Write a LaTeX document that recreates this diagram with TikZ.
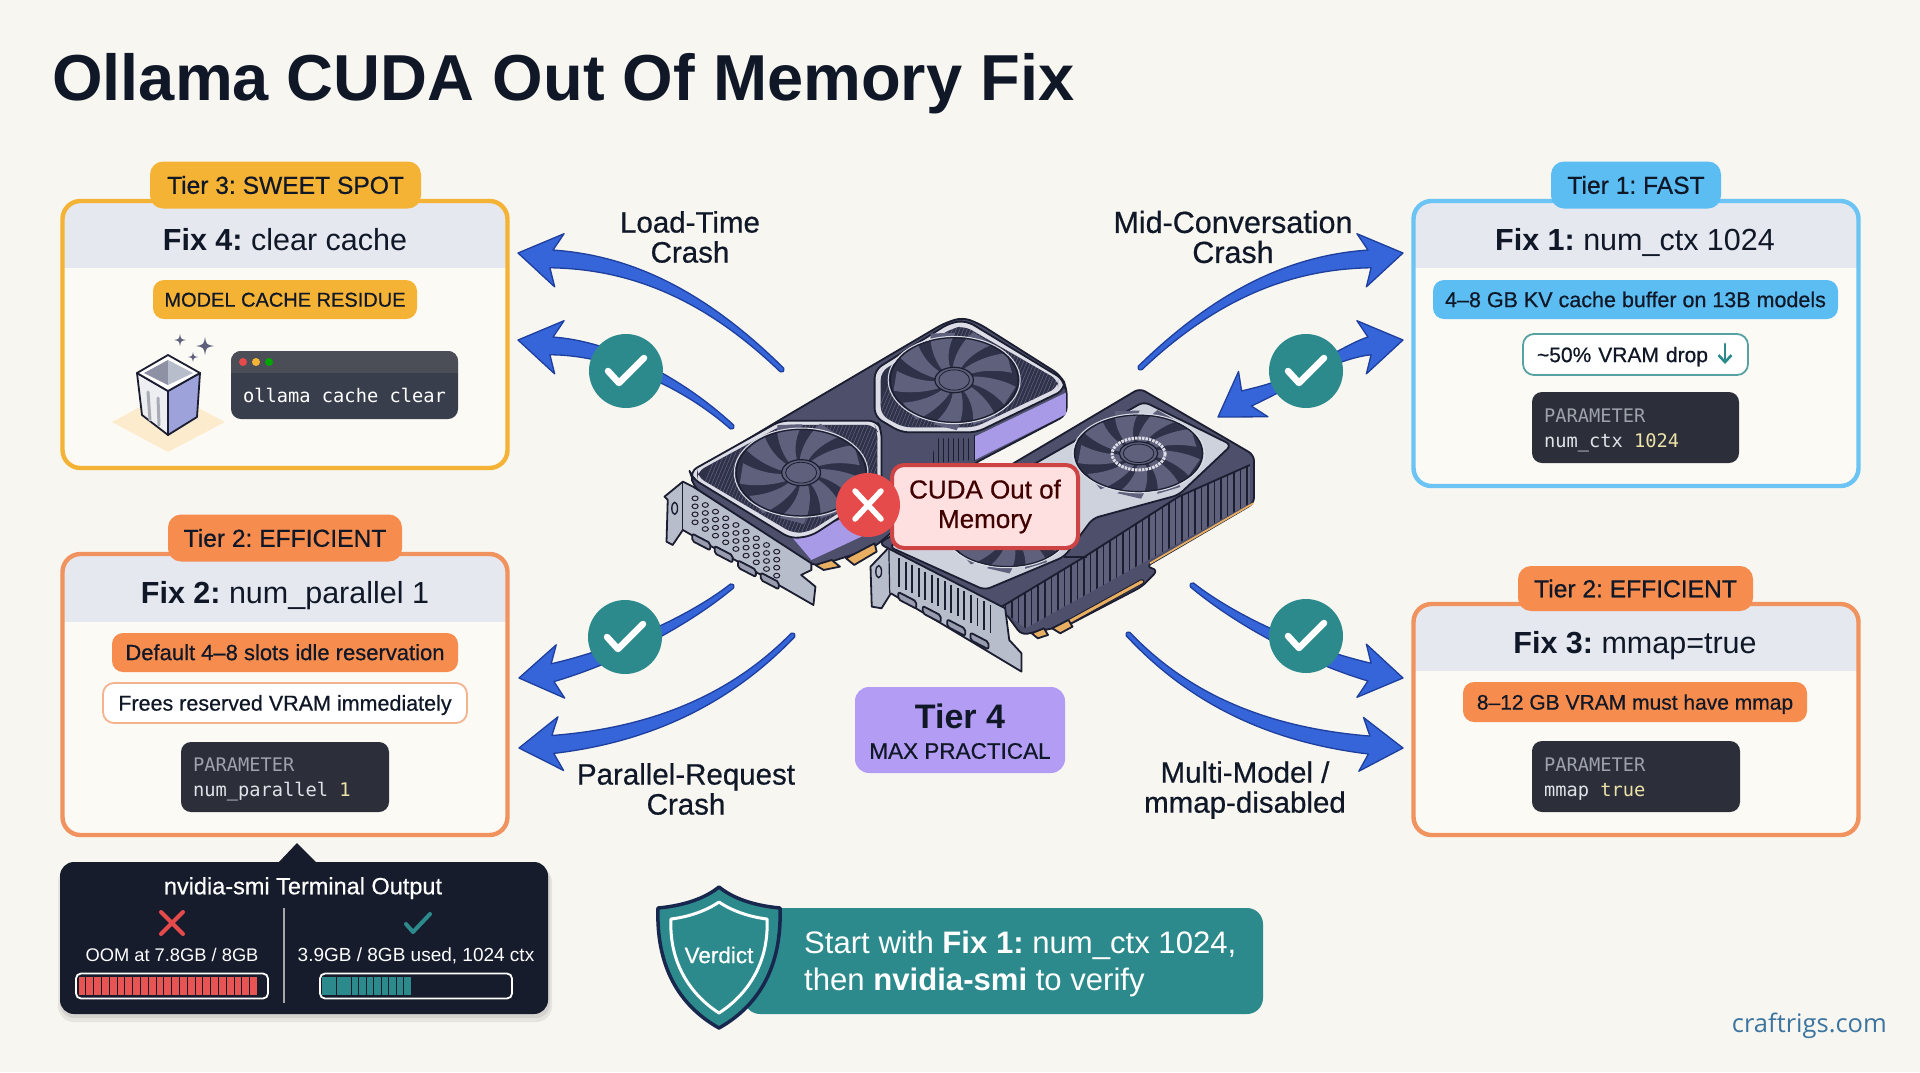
\documentclass[tikz,border=0pt]{standalone}
\usepackage{fontspec}
\usepackage{tikz}
\usetikzlibrary{calc,arrows.meta,positioning}
\setmainfont{Liberation Sans}
\setmonofont{DejaVu Sans Mono}
\newfontfamily\medfont[FakeBold=0.6]{Liberation Sans}
\newfontfamily\sitefont{Open Sans}

\definecolor{paper}{HTML}{F7F6F1}
\definecolor{ink}{HTML}{101828}
\definecolor{cardfill}{HTML}{FCFAF5}
\definecolor{headfill}{HTML}{E6E8EF}
\definecolor{amber}{HTML}{F5B335}
\definecolor{sky}{HTML}{5BBDF2}
\definecolor{tangerine}{HTML}{F68C4E}
\definecolor{peach}{HTML}{F0935F}
\definecolor{teal}{HTML}{2D8A8C}
\definecolor{night}{HTML}{161C2C}
\definecolor{slatebox}{HTML}{2C2F3A}
\definecolor{paramhead}{HTML}{9DA2AB}
\definecolor{paramtext}{HTML}{DFE3E8}
\definecolor{paramval}{HTML}{EDE3A8}
\definecolor{flowblue}{HTML}{3565D8}
\definecolor{flowedge}{HTML}{1E3F9C}
\definecolor{crossred}{HTML}{E54B4B}
\definecolor{lilac}{HTML}{B39CF4}
\definecolor{gpuline}{HTML}{1B1D30}
\definecolor{gpubody}{HTML}{4D4F6B}
\definecolor{gpudark}{HTML}{2F3148}
\definecolor{gpublade}{HTML}{5E607C}
\definecolor{gpurim}{HTML}{DCDDE6}
\definecolor{gpusilver}{HTML}{CDD2DC}
\definecolor{gpuplate}{HTML}{B8BDCB}
\definecolor{gpupurple}{HTML}{A99AE8}
\definecolor{gpugold}{HTML}{E8AE62}

\tikzset{tagbox/.style={rectangle,rounded corners=13pt,outer sep=0pt,inner sep=0pt,text=ink,text height=17.6pt,text depth=0pt,font=\medfont\fontsize{24.6}{28}\selectfont},
chipbox/.style={rectangle,rounded corners=11pt,outer sep=0pt,inner sep=0pt,text=ink,text height=15.2pt,text depth=0pt,font=\medfont\fontsize{21.5}{25}\selectfont},
hollowbox/.style={rectangle,rounded corners=11pt,outer sep=0pt,inner sep=0pt,fill=white,line width=1.8pt,text=ink,text height=15.2pt,text depth=0pt,font=\medfont\fontsize{21.5}{25}\selectfont},
parambox/.style={rectangle,rounded corners=10pt,outer sep=0pt,inner sep=0pt,fill=slatebox,align=left,text=paramtext,font=\ttfamily\fontsize{18.7}{25}\selectfont},
fixtext/.style={text=ink,inner sep=0pt,text height=21.8pt,text depth=0pt,font=\fontsize{30.5}{34}\selectfont},
crashlabel/.style={text=ink,align=center,inner sep=0pt,font=\medfont\fontsize{29.5}{30}\selectfont},
termtext/.style={text=white,inner sep=0pt,text height=13.6pt,text depth=0pt,font=\fontsize{19}{22}\selectfont},
flowline/.style={fill=flowblue,draw=flowedge,line width=1.3pt,line join=round},
checkdisc/.style={circle,fill=teal,minimum size=74pt,inner sep=0pt},
checkstroke/.style={white,line width=6.5pt,line cap=round,line join=round},
gpuedge/.style={draw=gpuline,line width=1.8pt,line join=round}}

% tail, tip, angle at the tip, two control points, half width at the tail
\newcommand{\flowarrow}[6]{
\draw[flowline] ($(#2)+(#3:-34)+(#3+90:9)$) -- ($(#2)+(#3:-42)+(#3+90:27)$) -- (#2) -- ($(#2)+(#3:-42)+(#3+90:-27)$) -- ($(#2)+(#3:-34)+(#3+90:-9)$)
.. controls ($(#5)+(#3+90:-7)$) and ($(#4)+(#3+90:-4)$) .. ($(#1)!#6pt!90:(#4)$)
.. controls ($(#1)!#6pt!180:(#4)$) .. ($(#1)!#6pt!-90:(#4)$)
.. controls ($(#4)+(#3+90:4)$) and ($(#5)+(#3+90:7)$) .. cycle;}

% name, left, top, right, bottom, header bottom, colour
\newcommand{\tiercard}[7]{
\pgfmathsetmacro{\cardw}{#4-#2}\pgfmathsetmacro{\cardh}{#5-#3}
\node[rectangle,rounded corners=18pt,outer sep=0pt,inner sep=0pt,fill=cardfill,minimum width=\cardw pt,minimum height=\cardh pt] (#1) at ({(#2+#4)/2},{(#3+#5)/2}) {};
\begin{scope}
\clip[rounded corners=18pt] (#2,#3) rectangle (#4,#5);
\fill[headfill] (#2,#3) rectangle (#4,#6);
\end{scope}
\draw[#7,line width=4.4pt,rounded corners=18pt] (#2,#3) rectangle (#4,#5);}

% x, y, x radius, y radius
\newcommand{\gpufan}[4]{
\begin{scope}[shift={(#1,#2)},xscale=#3,yscale=#4]
\fill[gpudark] (0,0) circle (1);
\foreach \a in {0,40,...,320} \fill[gpublade,rotate=\a] (0.24,-0.08) .. controls (0.5,-0.1) and (0.8,0.02) .. (0.96,0.16) -- (0.78,0.58) .. controls (0.65,0.35) and (0.45,0.15) .. (0.24,0.08) -- cycle;
\draw[gpuline,line width=1.4pt] (0,0) circle (1);
\draw[gpurim,line width=1pt] (0,0) circle (1.03);
\fill[gpublade] (0,0) circle (0.3);
\draw[gpuline,line width=1.2pt] (0,0) circle (0.3);
\draw[gpuline,line width=.8pt] (0,0) circle (0.24);
\end{scope}}

% x, y of a display port on a bracket
\newcommand{\gpuport}[2]{
\draw[gpuedge,fill=gpuplate!70!gpubody,rounded corners=2pt] (#1-22,#2-14) -- (#1+22,#2+14) -- (#1+22,#2+36) -- (#1-22,#2+8) -- cycle;}

% x, y, size
\newcommand{\sparkle}[3]{
\fill[gpublade] (#1,#2-#3) .. controls (#1+.15*#3,#2-.15*#3) .. (#1+#3,#2) .. controls (#1+.15*#3,#2+.15*#3) .. (#1,#2+#3) .. controls (#1-.15*#3,#2+.15*#3) .. (#1-#3,#2) .. controls (#1-.15*#3,#2-.15*#3) .. cycle;}

\begin{document}
\frenchspacing
\begin{tikzpicture}[x=1pt,y=-1pt]

\useasboundingbox (0,0) rectangle (1920,1072);
\fill[paper] (0,0) rectangle (1920,1072);

% Title
\node[anchor=base west,inner sep=0pt,text=ink,font=\bfseries\fontsize{65}{70}\selectfont] (title) at (52,100) {Ollama CUDA Out Of Memory Fix};

% Cards
\tiercard{cardSweet}{62.5}{201}{507.5}{468}{268}{amber}
\tiercard{cardEfficient}{62.5}{554}{507.5}{835}{622}{peach}
\tiercard{cardFast}{1413.5}{201}{1858.5}{486}{268}{sky!90!white}
\tiercard{cardMmap}{1413.5}{604}{1858.5}{835}{671}{peach}

\node[tagbox,fill=amber,minimum width=271pt,minimum height=47pt] (tagSweet) at (285.5,185) {Tier 3: SWEET SPOT};
\node[tagbox,fill=tangerine,minimum width=234pt,minimum height=47pt] (tagEfficient) at (285,538) {Tier 2: EFFICIENT};
\node[tagbox,fill=sky,minimum width=170pt,minimum height=47pt] (tagFast) at (1636,185) {Tier 1: FAST};
\node[tagbox,fill=tangerine,minimum width=235pt,minimum height=45pt] (tagMmap) at (1635.5,588.5) {Tier 2: EFFICIENT};

\node[fixtext] (fixFour) at (285,239.5) {\textbf{Fix 4:} clear cache};
\node[fixtext] (fixTwo) at (285,592.5) {\textbf{Fix 2:} num\_parallel 1};
\node[fixtext] (fixOne) at (1635,239.5) {\textbf{Fix 1:} num\_ctx 1024};
\node[fixtext] (fixThree) at (1635,643) {\textbf{Fix 3:} mmap=true};

\node[chipbox,fill=amber,minimum width=264pt,minimum height=39pt,text height=14.3pt,font=\medfont\fontsize{20}{24}\selectfont] (chipResidue) at (285,299.5) {MODEL CACHE RESIDUE};
\node[chipbox,fill=tangerine,minimum width=346pt,minimum height=39pt,font=\medfont\fontsize{22}{25}\selectfont] (chipSlots) at (285,652.5) {Default 4–8 slots idle reservation};
\node[chipbox,fill=sky,minimum width=405pt,minimum height=39pt] (chipBuffer) at (1635.5,299.5) {4–8 GB KV cache buffer on 13B models};
\node[chipbox,fill=tangerine,minimum width=344pt,minimum height=40pt,font=\medfont\fontsize{21}{25}\selectfont] (chipMust) at (1635,702) {8–12 GB VRAM must have mmap};

\node[hollowbox,draw=peach!70,minimum width=364pt,minimum height=40pt] (noteFrees) at (285,703) {Frees reserved VRAM immediately};
\node[hollowbox,draw=teal!80,minimum width=225pt,minimum height=41pt,align=left,text width=197pt,font=\medfont\fontsize{21}{25}\selectfont] (noteDrop) at (1635.5,354.5) {\textasciitilde50\% VRAM drop};
\coordinate (dropTop) at (1725,344);
\coordinate (dropEnd) at (1725,364);
\draw[teal,line width=2.6pt,line cap=round,-{Straight Barb[length=7pt,width=13pt]}] (dropTop) -- (dropEnd);

\node[parambox,text width=183pt,minimum width=207pt,minimum height=71pt] (paramFast) at (1635.5,427.5) {\rule{0pt}{19pt}{\color{paramhead}PARAMETER}\\num\_ctx\hspace{11.3pt}{\color{paramval}1024}};
\node[parambox,text width=184pt,minimum width=208pt,minimum height=70pt] (paramEfficient) at (285,777) {\rule{0pt}{19pt}{\color{paramhead}PARAMETER}\\num\_parallel\hspace{11.3pt}{\color{paramval}1}};
\node[parambox,text width=184pt,minimum width=208pt,minimum height=71pt] (paramMmap) at (1636,776.5) {\rule{0pt}{19pt}{\color{paramhead}PARAMETER}\\mmap\hspace{11.3pt}{\color{paramval}true}};

% Cache terminal and bin
\node[rectangle,rounded corners=10pt,fill=night!85!white,outer sep=0pt,minimum width=227pt,minimum height=68pt] (cacheTerm) at (344.5,385) {};
\begin{scope}
\clip[rounded corners=10pt] (231,351) rectangle (458,419);
\fill[slatebox!85!white] (231,351) rectangle (458,373);
\end{scope}
\foreach \x/\c in {243/crossred,256/amber,269/green!65!black} \fill[\c] (\x,362) circle (4);
\node[inner sep=0pt,text=white,font=\ttfamily\fontsize{18.7}{22}\selectfont] (cacheCmd) at (344.5,395) {ollama cache clear};

\fill[amber!25] (112,422) -- (168,392) -- (225,422) -- (168,452) -- cycle;
\draw[gpuedge,fill=gpurim!50!white] (137,373) -- (168,391) -- (168,435) -- (142,415) -- cycle;
\draw[gpuedge,fill=gpuplate!80!blue!90!white] (168,391) -- (200,373) -- (197,417) -- (168,435) -- cycle;
\draw[gpuedge,fill=white] (137,373) -- (168,355) -- (200,373) -- (168,391) -- cycle;
\fill[gpublade!70] (144,373) -- (168,360) -- (168,385) -- cycle;
\fill[gpuplate] (168,360) -- (193,373) -- (168,385) -- cycle;
\draw[gpuplate!70!gray,line width=3pt,line cap=round] (148,392) -- (150,420) (158,398) -- (159,425);
\sparkle{180}{340}{6}
\sparkle{205}{346}{9}
\sparkle{193}{357}{5}

% Left card GPU
\begin{scope}[shift={(640,300)},x=0.408pt,y=-0.3333pt]
\draw[gpuedge,fill=gpubody,rounded corners=8pt] (125,520) -- (345,358) -- (745,70) -- (790,52) -- (830,70) -- (1030,225) -- (1046,262) -- (1046,345) -- (820,490) -- (570,745) -- (430,800) -- (130,560) -- cycle;
\fill[gpupurple] (820,410) -- (1044,278) -- (1044,343) -- (820,480) -- cycle;
\fill[gpupurple] (375,715) -- (530,640) -- (560,700) -- (420,780) -- cycle;
\draw[gpuline,line width=1.4pt] (820,405) -- (820,482);

% right shroud
\draw[gpuedge,fill=gpurim,rounded corners=8pt] (575,210) -- (760,68) -- (800,62) -- (1040,240) -- (1040,270) -- (825,397) -- (640,397) -- (575,350) -- cycle;
\begin{scope}
\clip[rounded corners=8pt] (590,215) -- (765,85) -- (795,78) -- (1025,240) -- (1025,262) -- (820,382) -- (645,382) -- (590,345) -- cycle;
\fill[gpudark] (570,60) rectangle (1040,400);
\foreach \k in {0,...,80} \draw[gpublade,line width=.6pt] (560+\k*9,400) -- ++(120,-350);
\end{scope}
\gpufan{770}{240}{157}{127}

% left shroud
\draw[gpuedge,fill=gpurim,rounded corners=8pt] (122,515) -- (345,362) -- (580,362) -- (592,390) -- (592,570) -- (420,708) -- (370,716) -- (128,535) -- cycle;
\begin{scope}
\clip[rounded corners=8pt] (140,515) -- (350,375) -- (575,375) -- (582,395) -- (582,565) -- (415,695) -- (375,700) -- (140,530) -- cycle;
\fill[gpudark] (130,360) rectangle (600,720);
\foreach \k in {0,...,80} \draw[gpublade,line width=.6pt] (100+\k*9,720) -- ++(120,-350);
\end{scope}
\gpufan{395}{518}{159}{130}

% vent under the shrouds
\begin{scope}
\clip (730,415) -- (815,415) -- (815,480) -- (710,490) -- cycle;
\foreach \k in {0,...,8} \draw[gpuline,line width=.9pt] (720+\k*12,410) -- ++(0,90);
\end{scope}

% gold contacts
\draw[gpuedge,fill=gpugold] (430,795) -- (470,780) -- (490,800) -- (450,810) -- cycle;
\draw[gpuedge,fill=gpugold] (505,775) -- (575,730) -- (580,755) -- (525,795) -- cycle;

% bracket
\draw[gpuedge,fill=gpuplate] (60,590) -- (105,545) -- (130,560) -- (420,790) -- (420,810) -- (395,825) -- (430,860) -- (425,915) -- (105,690) -- (80,735) -- (65,725) -- (68,600) -- cycle;
\draw[gpuline,line width=1.2pt] (105,548) -- (105,690);
\draw[gpuline,line width=1.4pt] (85,625) ellipse (7 and 18);
\foreach \r in {0,1,2,3} \foreach \c in {0,...,8} \draw[gpuline,line width=1pt,fill=gpublade!40] ({135+\c*25+\r*0},{595+\c*20+\r*24}) ellipse (7.5 and 7);
\foreach \x/\y in {150/715,205/752,262/795,318/832} {\gpuport{\x}{\y}}
\end{scope}

% Right card GPU
\begin{scope}[shift={(640,300)},x=0.408pt,y=-0.3333pt]
\draw[gpuedge,fill=gpubody,rounded corners=6pt] (585,730) -- (1225,265) -- (1505,465) -- (1505,610) -- (1240,800) -- (1270,810) -- (1230,860) -- (1050,975) -- (935,1005) -- (890,930) -- cycle;
\draw[gpuedge,fill=gpusilver,rounded corners=6pt] (610,740) -- (1235,305) -- (1450,435) -- (1320,585) -- (1110,655) -- (1040,770) -- (845,870) -- cycle;
\gpufan{1222}{460}{157}{115}
\draw[gpurim,line width=3pt,dash pattern=on 2.5pt off 1pt] (1222,462) ellipse (65 and 48);
\gpufan{900}{690}{150}{110}

% side vents
\begin{scope}
\clip (880,925) -- (1090,770) -- (1320,590) -- (1495,495) -- (1495,610) -- (945,985) -- cycle;
\fill[gpublade] (870,480) rectangle (1500,1000);
\foreach \x in {880,896,...,1500} \draw[gpuline,line width=1.5pt] (\x,480) -- (\x,1000);
\end{scope}
\draw[gpuedge] (880,925) -- (1090,770) -- (1320,590) -- (1495,495);
\draw[gpuedge] (1040,770) -- (1095,770);

% gold edge
\draw[gpuline,line width=5pt,line cap=round] (1052,965) -- (1230,845);
\draw[gpugold,line width=3pt,line cap=round] (1052,965) -- (1230,845);
\draw[gpugold,line width=1.8pt] (1250,790) -- (1503,610);
\draw[gpuedge,fill=gpugold] (960,1000) -- (990,985) -- (1000,1005) -- (975,1015) -- cycle;
\draw[gpuedge,fill=gpugold] (1010,985) -- (1050,960) -- (1060,980) -- (1030,1000) -- cycle;

% bracket
\draw[gpuedge,fill=gpuplate] (565,800) -- (608,745) -- (895,925) -- (905,1020) -- (935,1060) -- (935,1115) -- (615,880) -- (592,925) -- (568,920) -- cycle;
\draw[gpuline,line width=1.4pt] (585,815) ellipse (7 and 18);
\draw[gpuline,line width=1.2pt] (610,750) -- (612,880);
\foreach \x in {635,651,...,870} \draw[gpuline,line width=1.8pt] (\x,{775+(\x-635)*.62}) -- ++(0,85);
\foreach \x/\y in {655/890,715/932,775/972,832/1012} {\gpuport{\x}{\y}}
\end{scope}

% Arrows
\coordinate (tailLoad) at (782,370); \coordinate (tipLoad) at (518,253);
\coordinate (tailIdle) at (732,427); \coordinate (tipIdle) at (518,340);
\coordinate (tailSlot) at (732,586); \coordinate (tipSlot) at (519,678);
\coordinate (tailPara) at (793,635); \coordinate (tipPara) at (519,748);
\coordinate (tailMid) at (1140,368); \coordinate (tipMid) at (1403,253);
\coordinate (tipFast) at (1403,340); \coordinate (tipBack) at (1218,417);
\coordinate (tailMmap) at (1192,585); \coordinate (tipMmap) at (1403,678);
\coordinate (tailMulti) at (1128,634); \coordinate (tipMulti) at (1403,748);

\coordinate (checkTL) at (626,371);
\coordinate (checkTR) at (1306,371);
\coordinate (checkBL) at (625,637);
\coordinate (checkBR) at (1306,636);

\flowarrow{tailLoad}{tipLoad}{190}{700,290}{625,262}{2.5}
\flowarrow{tailIdle}{tipIdle}{190}{680,380}{610,348}{2.5}
\flowarrow{tailSlot}{tipSlot}{171}{690,620}{620,655}{2.5}
\flowarrow{tailPara}{tipPara}{174}{730,700}{650,735}{2.5}
\flowarrow{tailMid}{tipMid}{-10}{1221,290}{1296,262}{2.5}
\flowarrow{checkTR}{tipFast}{-10}{1330,362}{1350,350}{5}
\flowarrow{checkTR}{tipBack}{147}{1285,385}{1265,392}{5}
\flowarrow{tailMmap}{tipMmap}{10}{1235,620}{1305,655}{2.5}
\flowarrow{tailMulti}{tipMulti}{5}{1190,700}{1270,735}{2.5}

% Check badges
\foreach \n in {checkTL,checkTR,checkBL,checkBR} {
\node[checkdisc] (disc\n) at (\n) {};
\draw[checkstroke] ($(\n)+(-18,0)$) -- ($(\n)+(-7,12)$) -- ($(\n)+(18,-13)$);
}

% Crash labels
\node[crashlabel] (labelLoad) at (690,237) {Load-Time\\Crash};
\node[crashlabel,font=\medfont\fontsize{30.5}{30}\selectfont] (labelMid) at (1233,237) {Mid-Conversation\\Crash};
\node[crashlabel] (labelPara) at (686,789) {Parallel-Request\\Crash};
\node[crashlabel] (labelMulti) at (1245,790) {Multi-Model /\\mmap-disabled};

% CUDA badge
\node[rectangle,rounded corners=12pt,fill=red!12!white,draw=crossred!90!black,line width=4pt,outer sep=0pt,align=center,minimum width=186pt,minimum height=83pt,text=red!25!black,font=\medfont\fontsize{26}{29.5}\selectfont] (cudaBadge) at (985,506.5) {CUDA Out of\\Memory};
\node[circle,fill=crossred,minimum size=64pt,inner sep=0pt] (cudaCross) at (868,505) {};
\draw[white,line width=5.5pt,line cap=round] ($(cudaCross)+(-13,-14)$) -- ($(cudaCross)+(13,14)$) ($(cudaCross)+(-13,14)$) -- ($(cudaCross)+(13,-14)$);

% Tier 4
\node[rectangle,rounded corners=14pt,fill=lilac,outer sep=0pt,minimum width=210pt,minimum height=86pt] (tierFour) at (960,730) {};
\node[inner sep=0pt,text=ink,font=\bfseries\fontsize{34}{38}\selectfont] (tierFourName) at (960,716) {Tier 4};
\node[inner sep=0pt,text=ink,font=\medfont\fontsize{22.5}{26}\selectfont] (tierFourSub) at (960,751) {MAX PRACTICAL};

% nvidia-smi terminal
\fill[black,opacity=.07,rounded corners=16pt] (58,866) rectangle (552,1022);
\fill[black,opacity=.07,rounded corners=14pt] (60,866) rectangle (550,1018);
\node[rectangle,rounded corners=14pt,fill=night,outer sep=0pt,minimum width=488pt,minimum height=152pt] (smiBox) at (304,938) {};
\fill[night] (278,863) -- (297,843) -- (317,863) -- cycle;
\node[termtext,text height=16.5pt,font=\medfont\fontsize{23.5}{26}\selectfont] (smiTitle) at (303,886) {nvidia-smi Terminal Output};
\draw[gray!70,line width=1.2pt] (284,908) -- (284,1003);
\node[termtext,font=\fontsize{18.3}{22}\selectfont] (oomText) at (172,955) {OOM at 7.8GB / 8GB};
\node[termtext] (okText) at (416,955) {3.9GB / 8GB used, 1024 ctx};
\coordinate (oomMark) at (172,923); \coordinate (okMark) at (415,923);
\draw[crossred,line width=4pt,line cap=round] ($(oomMark)+(-11,-11)$) -- ($(oomMark)+(11,11)$) ($(oomMark)+(-11,11)$) -- ($(oomMark)+(11,-11)$);
\draw[teal,line width=4pt,line cap=round,line join=round] ($(okMark)+(-9,1)$) -- ($(okMark)+(-2,9)$) -- ($(okMark)+(15,-9)$);
\foreach \k in {0,...,22} \fill[crossred!95!white] (78.5+\k*7.8,977) rectangle +(6.9,18);
\foreach \k in {0,...,11} \fill[teal] (322+\k*7.45,977) rectangle +(6.6,18);
\node[rectangle,rounded corners=5pt,draw=white,line width=1.8pt,minimum width=192pt,minimum height=25pt,outer sep=0pt] (oomBar) at (172,986) {};
\node[rectangle,rounded corners=5pt,draw=white,line width=1.8pt,minimum width=192pt,minimum height=25pt,outer sep=0pt] (okBar) at (416,986) {};

% Verdict
\node[rectangle,rounded corners=16pt,fill=teal,outer sep=0pt,minimum width=519pt,minimum height=106pt] (verdictBand) at (1003.5,961) {};
\draw[fill=teal,draw=flowedge!30!night,line width=3.5pt,line join=round] (719,887) .. controls (735,900) and (758,906) .. (780,908) .. controls (782,965) and (760,1005) .. (719,1028) .. controls (678,1005) and (656,965) .. (658,908) .. controls (680,906) and (703,900) .. cycle;
\draw[white,line width=3pt,line join=round] (719,902) .. controls (732,911) and (750,917) .. (767,919) .. controls (769,960) and (750,993) .. (719,1013) .. controls (688,993) and (669,960) .. (671,919) .. controls (688,917) and (706,911) .. cycle;
\node[inner sep=0pt,text=white,font=\medfont\fontsize{22.5}{26}\selectfont] (verdictName) at (719,955) {Verdict};
\node[anchor=west,inner sep=0pt,text=white,align=left,font=\fontsize{31.1}{36.5}\selectfont] (verdictText) at (804,964) {Start with \textbf{Fix 1:} num\_ctx 1024,\\then \textbf{nvidia-smi} to verify};

% Site
\node[anchor=east,inner sep=0pt,text=flowedge!50!teal!90!white,font=\sitefont\fontsize{25.5}{30}\selectfont] (site) at (1887,1026) {craftrigs.com};

\end{tikzpicture}
\end{document}
